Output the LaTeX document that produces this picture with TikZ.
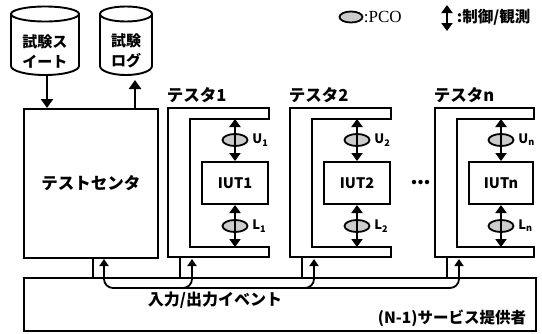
\documentclass[tikz,border=0pt]{standalone}
\usepackage{fontspec}
\setmainfont{Noto Sans CJK JP}
\newfontfamily\pcofont{Liberation Serif}
\usetikzlibrary{arrows.meta,calc,shapes.geometric}
\begin{document}
\begin{tikzpicture}[x=1pt,y=-1pt,line width=1.9pt,
  jtext/.style={font=\bfseries\fontsize{16.5}{20}\selectfont, inner sep=0pt},
  ctext/.style={font=\bfseries\fontsize{15}{20}\selectfont, inner sep=0pt},
  cyl/.style={draw, fill=white, line width=1.9pt},
  box/.style={draw, line width=2pt, inner sep=0pt},
  bigarrow/.style={line width=2.8pt, -{Triangle[width=12pt,length=9pt]}},
  dblarrow/.style={line width=2.8pt, {Triangle[width=11pt,length=8pt]}-{Triangle[width=11pt,length=8pt]}},
  evt/.style={line width=1.8pt, rounded corners=9pt},
  evtarrow/.style={evt, -{Triangle[width=9pt,length=7pt]}},
  pco/.style={draw, line width=1.8pt, fill=gray!40, ellipse, minimum width=25pt, minimum height=12pt, inner sep=0pt},
  tester/.style={draw, line width=2pt, fill=white},
  sub/.style={font=\bfseries\fontsize{13}{14}\selectfont, inner sep=0pt, anchor=west},
  dot/.style={circle, fill=black, inner sep=0pt, minimum size=4.5pt}
]
\useasboundingbox (0,0) rectangle (542,333);

% ---- cylinders ----
\path[cyl] (11,14) -- (11,66) arc[start angle=180,end angle=0,x radius=34,y radius=9] -- (79,14) -- cycle;
\draw[line width=1.9pt, fill=white] (45,14) ellipse[x radius=34,y radius=7.5];
\node[ctext, align=center] (suite) at (45,51) {試験ス\\イート};
\coordinate (suitebot) at (47,76);

\path[cyl] (100,14) -- (100,66) arc[start angle=180,end angle=0,x radius=26,y radius=9] -- (152,14) -- cycle;
\draw[line width=1.9pt, fill=white] (126,14) ellipse[x radius=26,y radius=7.5];
\node[ctext, align=center] (log) at (126,51) {試験\\ログ};
\coordinate (logbot) at (135,80);

% ---- legend ----
\node[pco, minimum width=23pt, minimum height=11pt] (legpco) at (351,17) {};
\node[anchor=west, inner sep=0pt, font=\pcofont\fontsize{17}{18}\selectfont] (legpcot) at (363,17) {:PCO};
\coordinate (legtop) at (447,5);
\coordinate (legbot) at (447,31);
\draw[dblarrow] (legtop) -- (legbot);
\node[anchor=west, inner sep=0pt, font=\bfseries\fontsize{15.5}{18}\selectfont] (legctl) at (456,17) {:制御/観測};

% ---- test center ----
\node[box, minimum width=134pt, minimum height=149pt, jtext] (tc) at (91,183.5) {テストセンタ};
\draw[bigarrow] (suitebot) -- (suitebot |- tc.north);
\draw[bigarrow] (logbot |- tc.north) -- (logbot);

% ---- testers ----
\foreach \n/\x/\xe/\lab in {1/168/269/1, 2/290/391/2, 3/435/534/n}{
  \draw[tester] (\x,108) -- (\xe,108) -- (\xe,119) -- (\x+22,119) -- (\x+22,247) -- (\xe,247) -- (\xe,257) -- (\x,257) -- cycle;
  \coordinate (t\n bl) at (\x,257);
  \node[jtext, anchor=south west] (t\n lab) at (\x-2,104) {テスタ\lab};
  \pgfmathsetmacro{\cx}{(\x+34+\xe-1)/2}
  \pgfmathsetmacro{\bw}{\xe-\x-35}
  \node[box, minimum width=\bw pt, minimum height=42pt, font=\bfseries\fontsize{14.5}{16}\selectfont] (iut\n) at (\cx,183) {IUT\lab};
  \coordinate (top\n) at (\cx,119);
  \coordinate (bot\n) at (\cx,247);
  \node[pco] (pu\n) at ($(iut\n.north)!0.5!(top\n)$) {};
  \node[pco] (pl\n) at ($(iut\n.south)!0.5!(bot\n)$) {};
  \draw[dblarrow] (top\n) -- (iut\n.north);
  \draw[dblarrow] (iut\n.south) -- (bot\n);
  \node[sub] (ul\n) at ($(pu\n.east)+(3,0)$) {U\textsubscript{\lab}};
  \node[sub] (ll\n) at ($(pl\n.east)+(3,0)$) {L\textsubscript{\lab}};
  \coordinate (pl\n top) at (\x+12,258);
  \coordinate (ar\n top) at (\x+24,259);
  \coordinate (ar\n bus) at (\x+24,288);
  \coordinate (ar\n in) at (\x+5,288);
}
\node[dot] (dot1) at (414,182) {};
\node[dot] (dot2) at (420.5,182) {};
\node[dot] (dot3) at (427,182) {};

% ---- service provider ----
\node[box, minimum width=512pt, minimum height=53pt] (svc) at (280,304.5) {};
\node[jtext, font=\bfseries\fontsize{16}{20}\selectfont] (evtlab) at (215,300) {入力/出力イベント};
\node[jtext, font=\bfseries\fontsize{15.5}{20}\selectfont, anchor=east] (svclab) at (527,318) {(N-1)サービス提供者};

% plain connection lines
\coordinate (tcpl) at (93,258);
\coordinate (tcar) at (104,259);
\coordinate (tcbus) at (104,288);
\draw (tcpl) -- (tcpl |- svc.north);
\foreach \n in {1,2,3}{
  \draw (pl\n top) -- (pl\n top |- svc.north);
}

% event bus
\draw[evt, {Triangle[width=9pt,length=7pt]}-{Triangle[width=9pt,length=7pt]}]
  (tcar) -- (tcbus) -- (ar3bus) -- (ar3top);
\draw[evtarrow] (ar1in) -- (ar1bus) -- (ar1top);
\draw[evtarrow] (ar2in) -- (ar2bus) -- (ar2top);
\end{tikzpicture}
\end{document}
